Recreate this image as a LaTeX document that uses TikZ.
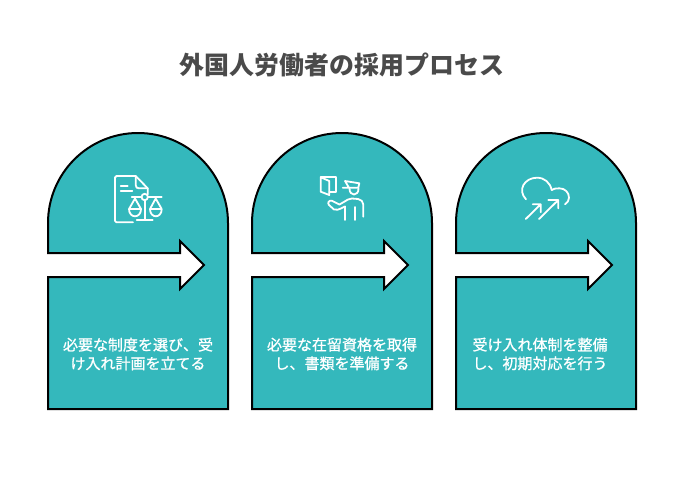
\documentclass[tikz,border=0pt]{standalone}
\usepackage{fontspec}
\newfontfamily\jpfont{Noto Sans CJK JP}
\newfontfamily\jpcaption[FakeBold=1]{Noto Sans CJK JP}
\definecolor{teal1}{HTML}{34B8BC}
\definecolor{titlegray}{HTML}{4A4A4A}
\tikzset{
  panel/.style={fill=teal1,draw=black,line width=1.5pt,line join=miter},
  icon/.style={draw=white,line width=1.35pt,line cap=round,line join=round},
  heading/.style={font=\jpfont\bfseries\fontsize{18.7}{22}\selectfont,text=titlegray,inner sep=0pt},
  caption/.style={font=\jpcaption\fontsize{11.25}{14}\selectfont,text=white,align=center,inner sep=0pt},
}
\newcommand{\panelshape}[1]{%
  \begin{scope}[xshift=#1*0.75pt]
    \draw[panel] (48,253) -- (48,223) arc[start angle=180,end angle=0,radius=67.5pt]
      -- (228,409) -- (48,409) -- (48,277) -- (180,277) -- (180,289) -- (204,265)
      -- (180,241) -- (180,253) -- cycle;
  \end{scope}}
\begin{document}
\begin{tikzpicture}[x=0.75pt,y=-0.75pt]
\useasboundingbox[fill=white] (0,0) rectangle (684,482);
\node[heading] (title) at (342,65) {外国人労働者の採用プロセス};
\panelshape{0}
\panelshape{204}
\panelshape{408}
\node[caption] (c1) at (138,354) {必要な制度を選び、受\\け入れ計画を立てる};
\node[caption] (c2) at (342,354) {必要な在留資格を取得\\し、書類を準備する};
\node[caption] (c3) at (540,354) {受け入れ体制を整備\\し、初期対応を行う};
% icon 1: document and scales
\draw[icon] (133,222.3) -- (116.5,222.3) .. controls (115.5,222.3) and (115,221.8) .. (115,220.8)
  -- (115,177.5) .. controls (115,176.5) and (115.5,176) .. (116.5,176) -- (135.7,176)
  -- (147.7,188.3) -- (147.7,194.5);
\draw[icon] (135.7,176) -- (135.7,185) .. controls (135.7,187.5) and (137,188.3) .. (139,188.3) -- (147.7,188.3);
\draw[icon] (120.7,185.7) -- (127.7,185.7) (120.7,191) -- (132.3,191);
\draw[icon] (131.7,197.3) -- (141.7,197.3) (147.7,197.3) -- (161.7,197.3);
\draw[icon] (144.7,197) circle[radius=2.4pt];
\draw[icon] (144.7,200) -- (144.7,220) (136.7,220) -- (152.7,220);
\draw[icon] (129,209) -- (135,198.5) -- (141,209) -- (129,209)
  .. controls (129,218.7) and (141,218.7) .. (141,209);
\draw[icon] (150,209) -- (155.7,198.5) -- (161.7,209) -- (150,209)
  .. controls (150,218.7) and (161.7,218.7) .. (161.7,209);
% icon 2: book and person
\draw[icon] (320.7,177.3) -- (320.7,191.7) -- (329.3,195) -- (329.3,181) -- cycle;
\draw[icon] (320.7,177.3) -- (336,177.3) -- (336,191.7) -- (329.3,191.7);
\draw[icon] (342.7,187.7) -- (358.3,187.7) -- (359.3,183.3) -- (345,181) -- (349,187.7);
\draw[icon] (349.5,188.5) .. controls (349.5,196.5) and (358.5,196.5) .. (358.5,188.5);
\draw[icon] (352,198.5) -- (358,199) .. controls (361,199.5) and (363.3,201.5) .. (363.3,204.5) -- (363.3,216.7);
\draw[icon] (352,198.5) -- (348,199.5) -- (339.5,204.5) -- (331.7,200.7)
  .. controls (329,200) and (327,203) .. (329,205) -- (334,209.5) .. controls (336,210.5) and (338,210) .. (345,206.5) -- (345,220);
\draw[icon] (355,207) -- (355,220);
% icon 3: cloud and arrows
\draw[icon] (526,199.3) .. controls (517,190) and (524.5,177.7) .. (537,177.7)
  .. controls (544.5,177.7) and (550,182.5) .. (551.7,190);
\draw[icon] (551.7,190) .. controls (553,188.7) and (556,188.3) .. (559.3,188.3)
  .. controls (565,188.3) and (569,192.5) .. (569,197.7) .. controls (569,200.5) and (567.5,202.5) .. (565,204.3);
\draw[icon] (525.7,219) -- (540.7,204.3) (532.7,204.3) -- (540.7,204.3) -- (540.7,212.3);
\draw[icon] (539,219) -- (558.3,200) (548.3,200) -- (558.3,200) -- (558.3,208.3);
\end{tikzpicture}
\end{document}
